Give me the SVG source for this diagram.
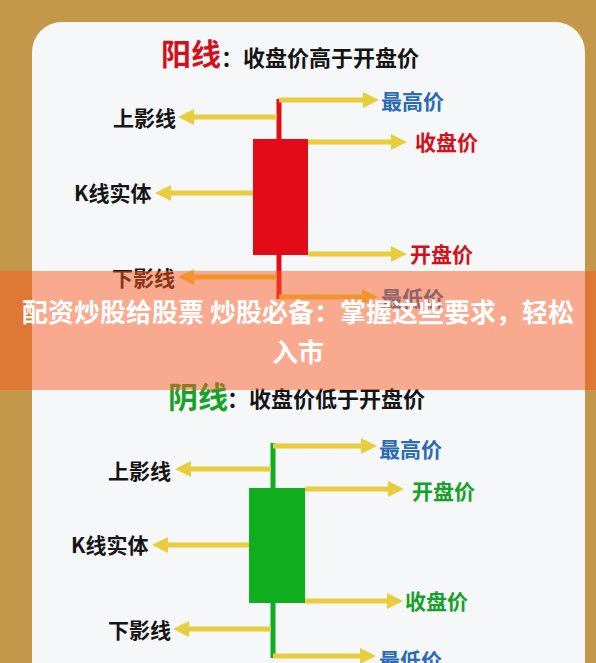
<svg xmlns="http://www.w3.org/2000/svg" width="596" height="663" viewBox="0 0 596 663">
<style>
.lbl{font-family:"Noto Sans CJK SC","Noto Sans",sans-serif;font-size:21px;font-weight:700}
.blk{fill:#151515}
.blue{fill:#2C6BB3}
.red{fill:#D3111C}
.grn{fill:#16A128}
.ttl{font-family:"Noto Sans CJK SC","Noto Sans",sans-serif;font-weight:700}
.arr{stroke:#E8CE3C;stroke-width:5;fill:none;marker-end:url(#ah)}
.banner{font-family:"Noto Sans CJK SC","Noto Sans",sans-serif;font-size:26px;font-weight:700;fill:#ffffff;text-anchor:middle}
</style>
<defs>
<marker id="ah" markerUnits="userSpaceOnUse" markerWidth="18" markerHeight="18" refX="6" refY="8" orient="auto">
<path d="M0,0 L16,8 L0,16 z" fill="#E8CE3C"/>
</marker>
</defs>
<rect x="0" y="0" width="596" height="663" fill="#C4974A"/>
<rect x="32" y="22" width="553" height="700" rx="30" ry="30" fill="#F5F7F8"/>

<!-- Top: yang line -->
<g id="title-yang">
<text class="ttl red" x="161" y="65" font-size="30">阳线</text>
<text class="ttl blk" x="221" y="66" font-size="22">：收盘价高于开盘价</text>
</g>
<g id="candle-yang">
<line x1="279" y1="99" x2="279" y2="299" stroke="#E30B17" stroke-width="5"/>
<rect x="253" y="139" width="55" height="116" fill="#E30B17"/>
</g>
<g id="connectors-yang">
<line class="arr" x1="279" y1="100" x2="369" y2="100"/>
<line class="arr" x1="277" y1="117" x2="188" y2="117"/>
<line class="arr" x1="308" y1="142" x2="397" y2="142"/>
<line class="arr" x1="253" y1="193" x2="165" y2="193"/>
<line class="arr" x1="308" y1="254" x2="397" y2="254"/>
<line class="arr" x1="277" y1="277" x2="188" y2="277"/>
<line class="arr" x1="279" y1="297" x2="368" y2="297"/>
</g>
<g id="labels-yang">
<text class="lbl blue" x="381" y="109">最高价</text>
<text class="lbl blk" x="113" y="126">上影线</text>
<text class="lbl red" x="415" y="150">收盘价</text>
<text class="lbl blk" x="74" y="201">K线实体</text>
<text class="lbl red" x="410" y="262">开盘价</text>
<text class="lbl blk" x="112" y="286">下影线</text>
<text class="lbl blue" x="381" y="306">最低价</text>
</g>

<!-- Bottom: yin line -->
<g id="title-yin">
<text class="ttl grn" x="168" y="408" font-size="30">阴线</text>
<text class="ttl blk" x="227" y="407" font-size="22">：收盘价低于开盘价</text>
</g>
<g id="candle-yin">
<line x1="273" y1="443" x2="273" y2="658" stroke="#0FAE1E" stroke-width="5"/>
<rect x="249" y="488" width="56" height="115" fill="#0FAE1E"/>
</g>
<g id="connectors-yin">
<line class="arr" x1="273" y1="446" x2="367" y2="446"/>
<line class="arr" x1="271" y1="469" x2="185" y2="469"/>
<line class="arr" x1="305" y1="489" x2="394" y2="489"/>
<line class="arr" x1="249" y1="545" x2="162" y2="545"/>
<line class="arr" x1="305" y1="601" x2="393" y2="601"/>
<line class="arr" x1="271" y1="629" x2="183" y2="629"/>
<line class="arr" x1="273" y1="656" x2="366" y2="656"/>
</g>
<g id="labels-yin">
<text class="lbl blue" x="379" y="457">最高价</text>
<text class="lbl blk" x="108" y="479">上影线</text>
<text class="lbl grn" x="412" y="499">开盘价</text>
<text class="lbl blk" x="71" y="553">K线实体</text>
<text class="lbl grn" x="405" y="609">收盘价</text>
<text class="lbl blk" x="108" y="638">下影线</text>
<text class="lbl blue" x="379" y="668">最低价</text>
</g>

<!-- Banner overlay -->
<g id="banner">
<rect x="0" y="271" width="596" height="119" fill="rgb(253,88,32)" fill-opacity="0.49"/>
<text class="banner" x="298" y="322">配资炒股给股票 炒股必备：掌握这些要求，轻松</text>
<text class="banner" x="298" y="362">入市</text>
</g>
</svg>
